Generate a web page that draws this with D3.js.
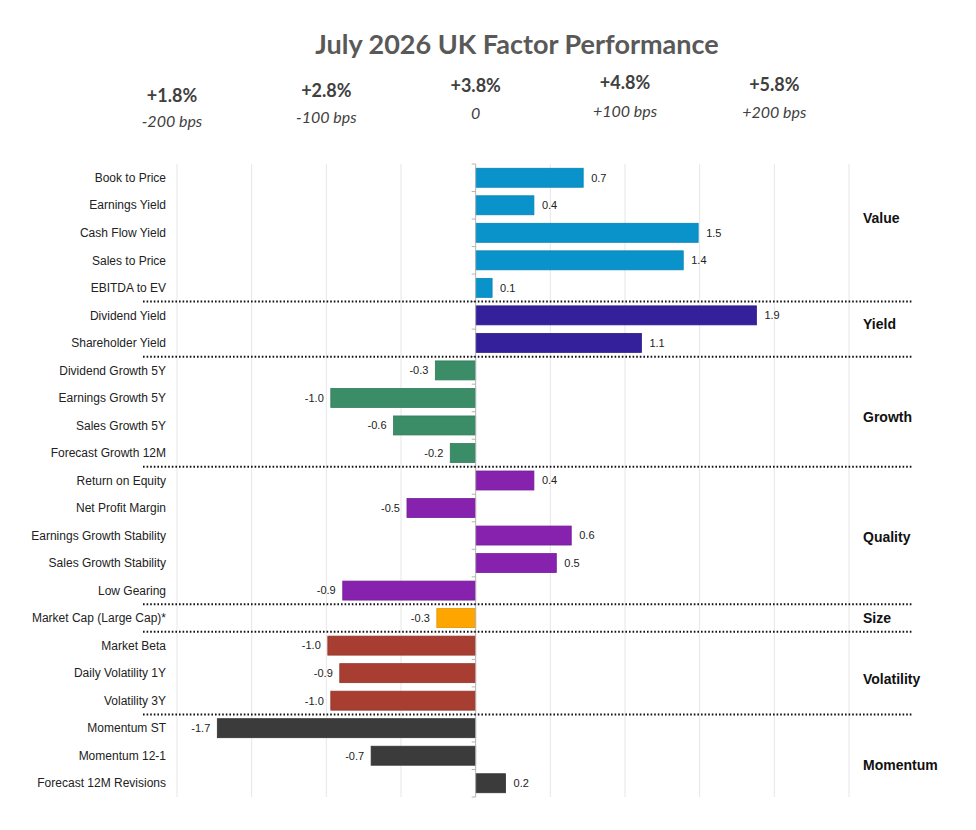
<!DOCTYPE html>
<html>
<head>
<meta charset="utf-8">
<script src="https://cdn.jsdelivr.net/npm/d3@7"></script>
<style>
  html, body { margin: 0; padding: 0; background: #fff; }
  svg { display: block; }
</style>
</head>
<body>
<div id="chart"></div>
<script>
// ---- DATA ----
const factors = [
  "Book to Price", "Earnings Yield", "Cash Flow Yield", "Sales to Price", "EBITDA to EV",
  "Dividend Yield", "Shareholder Yield",
  "Dividend Growth 5Y", "Earnings Growth 5Y", "Sales Growth 5Y", "Forecast Growth 12M",
  "Return on Equity", "Net Profit Margin", "Earnings Growth Stability", "Sales Growth Stability", "Low Gearing",
  "Market Cap (Large Cap)*",
  "Market Beta", "Daily Volatility 1Y", "Volatility 3Y",
  "Momentum ST", "Momentum 12-1", "Forecast 12M Revisions"
];
const values = [
  0.72, 0.39, 1.49, 1.39, 0.11,
  1.88, 1.11,
  -0.27, -0.97, -0.55, -0.17,
  0.39, -0.46, 0.64, 0.54, -0.89,
  -0.26,
  -0.99, -0.91, -0.97,
  -1.73, -0.70, 0.20
];
const factorGroups = [
  "Value", "Value", "Value", "Value", "Value",
  "Yield", "Yield",
  "Growth", "Growth", "Growth", "Growth",
  "Quality", "Quality", "Quality", "Quality", "Quality",
  "Size",
  "Volatility", "Volatility", "Volatility",
  "Momentum", "Momentum", "Momentum"
];
const groupNames = ["Value", "Yield", "Growth", "Quality", "Size", "Volatility", "Momentum"];
const groupColors = ["#0a93cb", "#33209a", "#3a8d67", "#8622ad", "#ffa500", "#a73e31", "#3b3b3b"];
const headerValues = [-2, -1, 0, 1, 2];
const headerReturns = ["+1.8%", "+2.8%", "+3.8%", "+4.8%", "+5.8%"];
const headerBps = ["-200 bps", "-100 bps", "0", "+100 bps", "+200 bps"];
const title = "July 2026 UK Factor Performance";

// ---- LAYOUT ----
const W = 976, H = 830;
const plotTop = 164, plotBottom = 797;
const x0 = 177, x1 = 849;
const headerYOffset = [10, 5, 0, -3, -1];
const groupLabelRow = [1.45, 5.3, 8.7, 13.05, 16, 18.2, 21.35];

const svg = d3.select("#chart").append("svg")
  .attr("width", W).attr("height", H);

const x = d3.scaleLinear().domain([-2, 2.5]).range([x0, x1]);
const y = d3.scaleBand().domain(factors).range([plotTop, plotBottom]).paddingInner(0.31).paddingOuter(0.155);
const color = d3.scaleOrdinal().domain(groupNames).range(groupColors);
const step = y.step();
const fmt = v => d3.format(".1f")(v).replace("\u2212", "-");

// Title
svg.append("text")
  .attr("x", 517).attr("y", 54)
  .attr("text-anchor", "middle")
  .attr("font-family", "Lato, 'Open Sans', sans-serif")
  .attr("font-weight", "bold")
  .attr("font-size", 27)
  .attr("fill", "#595959")
  .text(title);

// Header
const hdr = svg.append("g");
headerValues.forEach((v, i) => {
  const cx = x(v) - (i === 0 ? 5 : 0);
  hdr.append("text")
    .attr("x", cx).attr("y", 92 + headerYOffset[i])
    .attr("text-anchor", "middle")
    .attr("font-family", "Lato, 'Open Sans', sans-serif")
    .attr("font-weight", "bold")
    .attr("font-size", 18)
    .attr("fill", "#404040")
    .text(headerReturns[i]);
  hdr.append("text")
    .attr("x", cx).attr("y", 119 + headerYOffset[i] * 0.8)
    .attr("text-anchor", "middle")
    .attr("font-family", "Lato, 'Open Sans', sans-serif")
    .attr("font-style", "italic")
    .attr("font-size", 16)
    .attr("fill", "#404040")
    .text(headerBps[i]);
});

// Gridlines
const gridTicks = d3.range(-2, 2.51, 0.5);
svg.append("g")
  .selectAll("line")
  .data(gridTicks.filter(t => Math.abs(t) > 1e-9))
  .join("line")
  .attr("x1", d => x(d)).attr("x2", d => x(d))
  .attr("y1", plotTop).attr("y2", plotBottom)
  .attr("stroke", "#e6e6e6")
  .attr("stroke-width", 1);

// Bars
svg.append("g")
  .selectAll("rect")
  .data(factors)
  .join("rect")
  .attr("x", (d, i) => x(Math.min(0, values[i])))
  .attr("y", d => y(d))
  .attr("width", (d, i) => Math.abs(x(values[i]) - x(0)))
  .attr("height", y.bandwidth())
  .attr("fill", (d, i) => color(factorGroups[i]))
  .attr("stroke", (d, i) => d3.color(color(factorGroups[i])).darker(0.35))
  .attr("stroke-width", 0.8);

// Zero axis with ticks
const ax = svg.append("g").attr("transform", `translate(${x(0)},0)`);
ax.append("line")
  .attr("x1", 0).attr("x2", 0)
  .attr("y1", plotTop).attr("y2", plotBottom)
  .attr("stroke", "#b5b5b5").attr("stroke-width", 1);
ax.selectAll("line.tk")
  .data(d3.range(factors.length + 1))
  .join("line")
  .attr("class", "tk")
  .attr("x1", -4).attr("x2", 0)
  .attr("y1", i => plotTop + i * step)
  .attr("y2", i => plotTop + i * step)
  .attr("stroke", "#b5b5b5").attr("stroke-width", 1);

// Category labels
svg.append("g")
  .selectAll("text")
  .data(factors)
  .join("text")
  .attr("x", 166)
  .attr("y", d => y(d) + y.bandwidth() / 2)
  .attr("dy", "0.35em")
  .attr("text-anchor", "end")
  .attr("font-family", "'Liberation Sans', Arial, sans-serif")
  .attr("font-size", 12)
  .attr("fill", "#222")
  .text(d => d);

// Value labels
svg.append("g")
  .selectAll("text")
  .data(factors)
  .join("text")
  .attr("x", (d, i) => values[i] >= 0 ? x(values[i]) + 8 : x(values[i]) - 7)
  .attr("y", d => y(d) + y.bandwidth() / 2)
  .attr("dy", "0.35em")
  .attr("text-anchor", (d, i) => values[i] >= 0 ? "start" : "end")
  .attr("font-family", "'Liberation Sans', Arial, sans-serif")
  .attr("font-size", 11)
  .attr("fill", "#222")
  .text((d, i) => fmt(values[i]));

// Group separators (dotted)
const boundaries = [];
for (let i = 1; i < factors.length; i++) {
  if (factorGroups[i] !== factorGroups[i - 1]) boundaries.push(i);
}
svg.append("g")
  .selectAll("line")
  .data(boundaries)
  .join("line")
  .attr("x1", 143).attr("x2", 913)
  .attr("y1", i => plotTop + i * step)
  .attr("y2", i => plotTop + i * step)
  .attr("stroke", "#111")
  .attr("stroke-width", 2)
  .attr("stroke-dasharray", "1.6,2");

// Group labels
svg.append("g")
  .selectAll("text")
  .data(groupNames)
  .join("text")
  .attr("x", 863)
  .attr("y", (d, i) => plotTop + step * (groupLabelRow[i] + 0.5))
  .attr("dy", "0.35em")
  .attr("font-family", "'Liberation Sans', Arial, sans-serif")
  .attr("font-weight", "bold")
  .attr("font-size", 14)
  .attr("fill", "#111")
  .text(d => d);
</script>
</body>
</html>
